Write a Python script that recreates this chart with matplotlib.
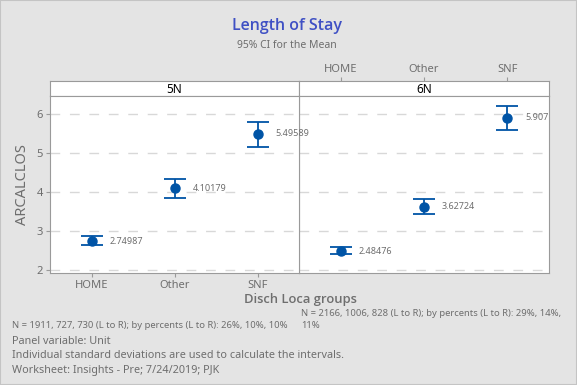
import matplotlib
matplotlib.use("Agg")
import matplotlib.pyplot as plt
from matplotlib.patches import Rectangle

plt.rcParams['font.family'] = ['Noto Sans', 'DejaVu Sans']

# data
groups = ["HOME", "Other", "SNF"]
panels = ["5N", "6N"]
means_5n = [2.74987, 4.10179, 5.49589]
lower_5n = [2.64, 3.85, 5.15]
upper_5n = [2.88, 4.33, 5.81]
means_6n = [2.48476, 3.62724, 5.907]
lower_6n = [2.41, 3.44, 5.59]
upper_6n = [2.60, 3.82, 6.21]
labels_5n = ["2.74987", "4.10179", "5.49589"]
labels_6n = ["2.48476", "3.62724", "5.907"]
yticks = [2, 3, 4, 5, 6]

BG = "#E4E4E4"
BLUE = "#0054A6"
GRAY = "#6E6E6E"
AXC = "#9A9A9A"

W, H = 577, 385
fig = plt.figure(figsize=(W / 100, H / 100), dpi=100, facecolor=BG)
fig.patches.append(Rectangle((0, 0), 1, 1, transform=fig.transFigure,
                             fill=False, edgecolor="#C4C4C4", lw=1.5))


def fbox(x0, y0, x1, y1):
    # pixel box (top-left origin) -> figure coords
    return [x0 / W, 1 - y1 / H, (x1 - x0) / W, (y1 - y0) / H]


data = [(means_5n, lower_5n, upper_5n, labels_5n),
        (means_6n, lower_6n, upper_6n, labels_6n)]
xs = [(50, 299), (299, 549)]

for i, (panel, (m, lo, hi, lab)) in enumerate(zip(panels, data)):
    x0, x1 = xs[i]
    ax = fig.add_axes(fbox(x0, 96, x1, 272.7))
    ax.set_zorder(5 - i)
    ax.set_facecolor("white")
    ax.set_xlim(-0.5, 2.5)
    ax.set_ylim(1.94, 6.47)
    for y in yticks:
        ax.axhline(y, color="#D8D8D8", lw=1, dashes=(7, 7), zorder=0)
    pos = range(len(groups))
    err = [[mm - l for mm, l in zip(m, lo)], [h - mm for mm, h in zip(m, hi)]]
    ax.errorbar(pos, m, yerr=err, fmt="o", color=BLUE, ms=6.5, capsize=8,
                elinewidth=1.3, capthick=1.3, zorder=3)
    for p, mm, t in zip(pos, m, lab):
        ax.annotate(t, (p, mm), xytext=(13, 0), textcoords="offset points",
                    va="center", ha="left", fontsize=6.5, color=GRAY,
                    annotation_clip=False, clip_on=False)
    for s in ax.spines.values():
        s.set_color(AXC)
    ax.set_yticks(yticks)
    ax.set_xticks(list(pos))
    ax.tick_params(colors=AXC, labelcolor=GRAY, labelsize=8, length=3, pad=2)
    if i == 0:
        ax.set_xticklabels(groups)
        ax.set_ylabel("ARCALCLOS", color=GRAY, fontsize=10.5, labelpad=5)
    else:
        ax.tick_params(axis="y", left=False, labelleft=False)
        ax.tick_params(axis="x", bottom=False, labelbottom=False)

    # strip
    sx = fig.add_axes(fbox(x0, 81, x1, 96))
    sx.set_facecolor("white")
    sx.set_xticks([])
    sx.set_yticks([])
    for s in sx.spines.values():
        s.set_color(AXC)
    sx.text(0.5, 0.45, panel, ha="center", va="center", fontsize=8.5,
            color="black", transform=sx.transAxes)
    if i == 1:
        sx.set_xlim(-0.5, 2.5)
        sx.set_xticks(list(pos))
        sx.set_xticklabels(groups)
        sx.tick_params(axis="x", top=True, labeltop=True, bottom=False,
                       labelbottom=False, colors=AXC, labelcolor=GRAY,
                       labelsize=8, length=3, pad=1.5)

fig.text(287 / W, 1 - 26 / H, "Length of Stay", ha="center", va="center",
         fontsize=11.5, color="#3F50C4", family=["Open Sans", "Noto Sans"],
         fontweight="semibold")
fig.text(287 / W, 1 - 45 / H, "95% CI for the Mean", ha="center", va="center",
         fontsize=7.5, color=GRAY)
fig.text(300 / W, 1 - 299 / H, "Disch Loca groups", ha="center", va="center",
         fontsize=9.4, color=GRAY, family=["Open Sans", "Noto Sans"],
         fontweight="semibold")

fig.text(12 / W, 1 - 326 / H, "N = 1911, 727, 730 (L to R); by percents (L to R): 26%, 10%, 10%",
         ha="left", va="center", fontsize=6.8, color=GRAY)
fig.text(301 / W, 1 - 313 / H, "N = 2166, 1006, 828 (L to R); by percents (L to R): 29%, 14%,",
         ha="left", va="center", fontsize=6.8, color=GRAY)
fig.text(301 / W, 1 - 326 / H, "11%", ha="left", va="center", fontsize=6.8, color=GRAY)
foot = ["Panel variable: Unit",
        "Individual standard deviations are used to calculate the intervals.",
        "Worksheet: Insights - Pre; 7/24/2019; PJK"]
for k, t in enumerate(foot):
    fig.text(12 / W, 1 - (341 + 15 * k) / H, t, ha="left", va="center",
             fontsize=7.8, color=GRAY)

fig.savefig("out.png", dpi=100, facecolor=BG)
